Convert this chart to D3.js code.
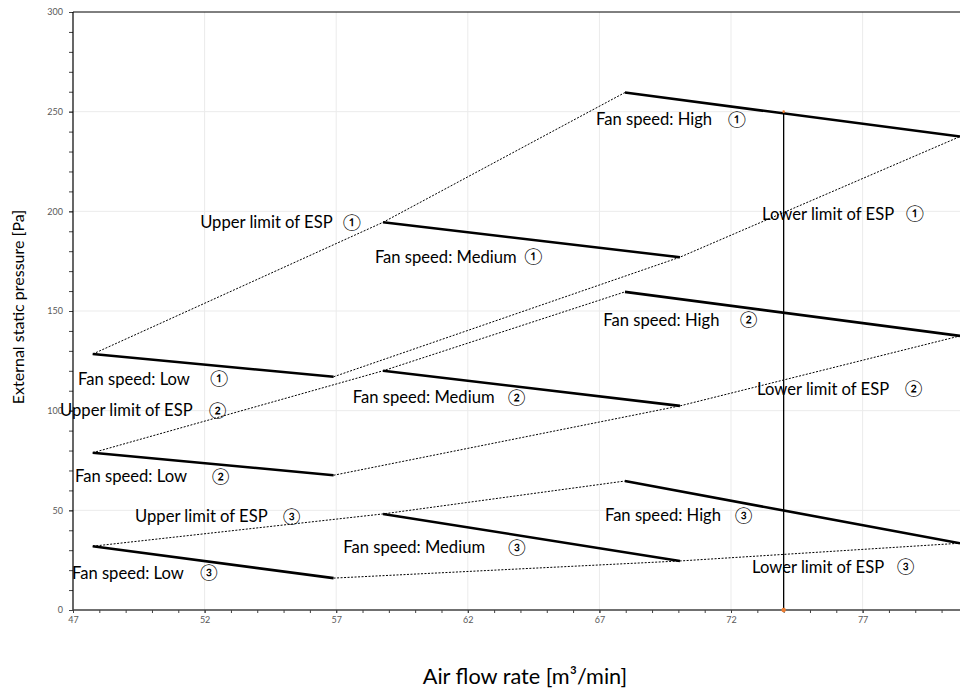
<!DOCTYPE html>
<html>
<head>
<meta charset="utf-8">
<script src="https://cdn.jsdelivr.net/npm/d3@7"></script>
<style>
  html, body { margin: 0; padding: 0; background: #fff; }
  svg { display: block; }
  text { font-family: Lato, "Open Sans", "Noto Sans", sans-serif; }
</style>
</head>
<body>
<svg id="chart" width="960" height="691"></svg>
<script>
// ---------- data ----------
const circleNums = ["①", "②", "③"];
const speedNames = ["Low", "Medium", "High"];
// air flow rate [m3/min] at start / end of each fan-speed curve
const flowLow    = [47.75, 56.9];
const flowMedium = [58.78, 70.06];
const flowHigh   = [67.97, 80.7];
// external static pressure [Pa] at start / end, per set ①②③
const espLow    = [[128.4, 117.0], [78.9, 67.6], [32.0, 16.0]];
const espMedium = [[194.5, 177.0], [120.0, 102.4], [48.2, 24.6]];
const espHigh   = [[259.6, 237.5], [159.6, 137.5], [64.7, 33.5]];
// design point (vertical line)
const designFlow = 74;
const designEsp = 250;
// tick values
const xTicksMajor = [47, 52, 57, 62, 67, 72, 77];
const yTicksMajor = [0, 50, 100, 150, 200, 250, 300];
// labels: text, set index, x (flow), x of circled number, y (ESP)
const labelText = [
  "Fan speed: High", "Upper limit of ESP", "Fan speed: Medium", "Lower limit of ESP",
  "Fan speed: High", "Fan speed: Low", "Upper limit of ESP", "Fan speed: Medium", "Lower limit of ESP",
  "Fan speed: Low", "Upper limit of ESP", "Fan speed: High", "Fan speed: Medium", "Fan speed: Low", "Lower limit of ESP"
];
const labelSet  = [0, 0, 0, 0, 1, 0, 1, 1, 1, 1, 2, 2, 2, 2, 2];
const labelFlow = [66.87, 51.83, 58.47, 73.18, 67.15, 47.19, 46.51, 57.63, 72.99, 47.08, 49.36, 67.21, 57.27, 46.96, 72.80];
const labelNumFlow = [71.89, 57.26, 64.15, 78.65, 72.34, 52.21, 52.17, 63.53, 78.61, 52.28, 54.98, 72.15, 63.54, 51.83, 78.31];
const labelEsp  = [243.3, 191.5, 174.1, 195.7, 142.5, 112.9, 97.3, 103.7, 107.9, 64.2, 44.1, 44.6, 28.4, 15.6, 18.6];

// ---------- layout ----------
const svg = d3.select("#chart");
const mLeft = 73, mTop = 12, mRight = 960, mBottom = 610;
const x = d3.scaleLinear().domain([47, 80.7]).range([mLeft, mRight]);
const y = d3.scaleLinear().domain([0, 300]).range([mBottom, mTop]);

// grid
svg.append("g").selectAll("line").data(yTicksMajor.filter(d => d > 0 && d < 300)).join("line")
  .attr("x1", mLeft).attr("x2", mRight).attr("y1", d => y(d)).attr("y2", d => y(d))
  .attr("stroke", "#ebebeb").attr("stroke-width", 1);
svg.append("g").selectAll("line").data(xTicksMajor.filter(d => d > 47)).join("line")
  .attr("x1", d => x(d)).attr("x2", d => x(d)).attr("y1", mTop).attr("y2", mBottom)
  .attr("stroke", "#ebebeb").attr("stroke-width", 1);

// top border
svg.append("line").attr("x1", mLeft).attr("x2", mRight).attr("y1", y(300)).attr("y2", y(300))
  .attr("stroke", "#000").attr("stroke-width", 1);

// axes
const xAxisMinor = d3.axisBottom(x).tickValues(d3.range(47, 81, 1)).tickSize(3).tickFormat("");
const xAxis = d3.axisBottom(x).tickValues(xTicksMajor).tickSize(3).tickFormat(d3.format("d"));
const yAxisMinor = d3.axisLeft(y).tickValues(d3.range(0, 301, 10)).tickSize(4).tickFormat("");
const yAxis = d3.axisLeft(y).tickValues(yTicksMajor).tickSize(4).tickFormat(d3.format("d"));

function styleAxis(g) {
  g.select(".domain").remove();
  g.selectAll(".tick line").attr("stroke", "#404040");
  g.selectAll("text").attr("fill", "#595959").attr("font-size", 9);
}
svg.append("g").attr("transform", `translate(0,${mBottom})`).call(xAxisMinor).call(styleAxis);
svg.append("g").attr("transform", `translate(0,${mBottom})`).call(xAxis).call(styleAxis)
  .selectAll("text").attr("dy", "0.9em").attr("y", 5);
svg.append("g").attr("transform", `translate(${mLeft},0)`).call(yAxisMinor).call(styleAxis);
svg.append("g").attr("transform", `translate(${mLeft},0)`).call(yAxis).call(styleAxis)
  .selectAll("text").attr("x", -10);

svg.append("line").attr("x1", mLeft).attr("x2", mLeft).attr("y1", mTop).attr("y2", mBottom)
  .attr("stroke", "#000").attr("stroke-width", 1.2);
svg.append("line").attr("x1", mLeft).attr("x2", mRight).attr("y1", mBottom).attr("y2", mBottom)
  .attr("stroke", "#404040").attr("stroke-width", 1.5);

// clip
svg.append("clipPath").attr("id", "clip").append("rect")
  .attr("x", mLeft).attr("y", mTop).attr("width", mRight - mLeft).attr("height", mBottom - mTop);
const plot = svg.append("g").attr("clip-path", "url(#clip)");
const line = d3.line().x(d => x(d[0])).y(d => y(d[1]));

const flows = [flowLow, flowMedium, flowHigh];
const esps = [espLow, espMedium, espHigh];

// limit (dashed) lines
for (let s = 0; s < 3; s++) {
  const upper = flows.map((f, k) => [f[0], esps[k][s][0]]);
  const lower = flows.map((f, k) => [f[1], esps[k][s][1]]);
  [upper, lower].forEach(pts => {
    plot.append("path").attr("d", line(pts)).attr("fill", "none")
      .attr("stroke", "#000").attr("stroke-width", 1).attr("stroke-dasharray", "2,1.5");
  });
}
// fan speed curves (solid)
for (let s = 0; s < 3; s++) {
  for (let k = 0; k < 3; k++) {
    const pts = [[flows[k][0], esps[k][s][0]], [flows[k][1], esps[k][s][1]]];
    plot.append("path").attr("d", line(pts)).attr("fill", "none")
      .attr("stroke", "#000").attr("stroke-width", 2.6);
  }
}

// design point
plot.append("line").attr("x1", x(designFlow)).attr("x2", x(designFlow))
  .attr("y1", y(0)).attr("y2", y(designEsp)).attr("stroke", "#000").attr("stroke-width", 1.3);
svg.append("circle").attr("cx", x(designFlow)).attr("cy", y(0)).attr("r", 2.2).attr("fill", "#ED7D31");
svg.append("circle").attr("cx", x(designFlow)).attr("cy", y(designEsp)).attr("r", 1.3).attr("fill", "#ED7D31");

// labels
const lab = svg.append("g").attr("font-size", 16.6).attr("fill", "#000");
labelText.forEach((t, i) => {
  lab.append("text").attr("x", x(labelFlow[i])).attr("y", y(labelEsp[i])).text(t);
  lab.append("text").attr("x", x(labelNumFlow[i])).attr("y", y(labelEsp[i]) - 0.5)
    .attr("font-size", 16).attr("font-family", "'Noto Sans CJK JP', 'DejaVu Sans', sans-serif")
    .text(circleNums[labelSet[i]]);
});

// axis titles
svg.append("text").attr("transform", `translate(24,${(mTop + mBottom) / 2 - 4}) rotate(-90)`)
  .attr("text-anchor", "middle").attr("font-size", 16).attr("fill", "#000")
  .text("External static pressure [Pa]");
svg.append("text").attr("x", 525).attr("y", 684)
  .attr("text-anchor", "middle").attr("font-size", 21.7).attr("fill", "#000")
  .text("Air flow rate [m³/min]");
</script>
</body>
</html>
